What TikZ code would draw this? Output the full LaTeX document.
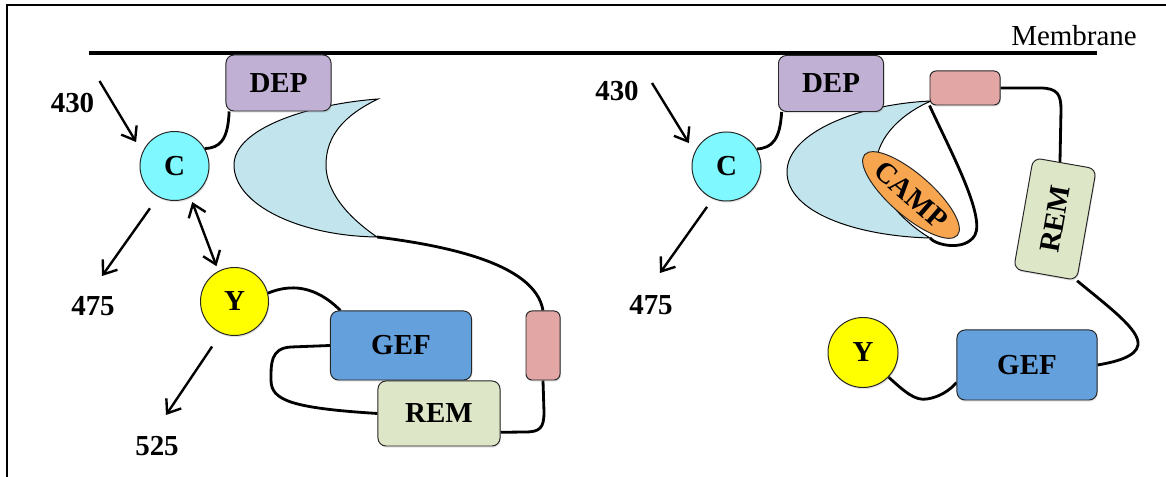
\documentclass[tikz,border=0pt]{standalone}
\usepackage{fontspec}
\setmainfont{Liberation Serif}
\usetikzlibrary{arrows.meta,shapes.geometric,shadows,backgrounds}
\definecolor{depC}{HTML}{C0B0D4}
\definecolor{cC}{HTML}{7FF8FF}
\definecolor{yC}{HTML}{FFFF00}
\definecolor{gefC}{HTML}{64A0DC}
\definecolor{remC}{HTML}{DEE6C8}
\definecolor{pinkC}{HTML}{E2A6A5}
\definecolor{cresC}{HTML}{C2E4EC}
\definecolor{campC}{HTML}{F8A550}
\newcommand{\lbl}{\fontsize{20.6}{24}\selectfont\bfseries}

\begin{document}
\begin{tikzpicture}[x=0.025cm,y=-0.025cm,
    box/.style={draw=black!85,line width=0.7pt,rounded corners=0.2cm,inner sep=0pt,font=\lbl,
      drop shadow={shadow xshift=0.6pt,shadow yshift=-1.2pt,opacity=0.22}},
    ball/.style={circle,draw=black!85,line width=0.7pt,inner sep=0pt,font=\lbl,
      drop shadow={shadow xshift=0.6pt,shadow yshift=-1.2pt,opacity=0.22}},
    link/.style={line width=2pt},
    arr/.style={line width=1.7pt,-{Straight Barb[length=0.3cm,width=0.45cm]}},
    dblarr/.style={line width=1.7pt,{Straight Barb[length=0.3cm,width=0.45cm]}-{Straight Barb[length=0.3cm,width=0.45cm]}},
    num/.style={font=\lbl}]
  \useasboundingbox (0,0) rectangle (1166,477);
  % frame and membrane
  \draw[line width=1.4pt] (7,477) -- (7,5) -- (1166,5);
  \draw[line width=3.2pt] (89,53) -- (1097,53);
  \node[font=\fontsize{20.6}{24}\selectfont] (memb) at (1074,36) {Membrane};

  % left crescent
  \coordinate (tipLt) at (378,99);
  \coordinate (tipLb) at (377,237);
  \draw[fill=cresC,line width=0.7pt] (tipLt) .. controls (310,104) and (234,128) .. (234,165)
      .. controls (234,205) and (300,236) .. (tipLb)
      .. controls (345,215) and (326,190) .. (326,165)
      .. controls (326,135) and (345,115) .. (tipLt) -- cycle;
  % right crescent
  \coordinate (tipRt) at (931,101);
  \coordinate (tipRb) at (930,238);
  \draw[fill=cresC,line width=0.7pt] (tipRt) .. controls (860,104) and (787,132) .. (787,172)
      .. controls (787,212) and (855,236) .. (tipRb)
      .. controls (900,220) and (875,190) .. (876,165)
      .. controls (877,135) and (905,112) .. (tipRt) -- cycle;

  % left panel
  \node[box,fill=depC,minimum width=2.625cm,minimum height=1.4cm] (depL) at (278.5,83) {DEP};
  \node[ball,fill=cC,minimum size=1.725cm] (cL) at (174.5,166) {C};
  \node[ball,fill=yC,minimum size=1.7cm] (yL) at (234.5,301.5) {Y};
  \node[box,fill=gefC,minimum width=3.525cm,minimum height=1.725cm] (gefL) at (401,345.5) {GEF};
  \node[box,fill=remC,minimum width=3.05cm,minimum height=1.625cm] (remL) at (439,413.5) {REM};
  \node[box,fill=pinkC,rounded corners=0.15cm,minimum width=0.85cm,minimum height=1.725cm] (pinkL) at (543,345.5) {};

  % right panel
  \node[box,fill=depC,minimum width=2.625cm,minimum height=1.4cm] (depR) at (831,83.5) {DEP};
  \node[box,fill=pinkC,rounded corners=0.15cm,minimum width=1.75cm,minimum height=0.85cm] (pinkR) at (965,88) {};
  \node[ellipse,draw=black!85,line width=0.7pt,fill=campC,inner sep=0pt,font=\lbl,
        minimum width=2.6cm,minimum height=1.05cm,rotate=-41] (camp) at (911,195) {CAMP};
  \node[ball,fill=cC,minimum size=1.725cm] (cR) at (726.5,166.5) {C};
  \node[box,fill=remC,minimum width=2.825cm,minimum height=1.6cm,rotate=80] (remR) at (1055,219) {REM};
  \node[ball,fill=yC,minimum size=1.75cm] (yR) at (863,352.5) {Y};
  \node[box,fill=gefC,minimum width=3.5cm,minimum height=1.75cm] (gefR) at (1027,365) {GEF};

  % numbers
  \node[num] (n430L) at (72.5,103) {430};
  \node[num] (n475L) at (93,306) {475};
  \node[num] (n525L) at (157,446) {525};
  \node[num] (n430R) at (617,91) {430};
  \node[num] (n475R) at (651,305) {475};
  \coordinate (s430L) at (99.5,81);
  \coordinate (e475L) at (102,276);
  \coordinate (e525L) at (166,415);
  \coordinate (s430R) at (652,83);
  \coordinate (e475R) at (660,273);

  \draw[arr,shorten >=0.3cm] (s430L) -- (cL.157);
  \draw[arr,shorten <=0.35cm] (cL.242) -- (e475L);
  \draw[arr,shorten <=0.4cm] (yL.247) -- (e525L);
  \draw[dblarr,shorten <=0.13cm,shorten >=0.13cm] (cL.-63) -- (yL.118);
  \draw[arr,shorten >=0.27cm] (s430R) -- (cR.156);
  \draw[arr,shorten <=0.25cm] (cR.247) -- (e475R);

  % linkers
  \begin{scope}[on background layer]
    \draw[link] (depL.210) .. controls (228,140) and (220,148) .. (cL.30);
    \draw[link] (yL.14) .. controls (290,284) and (315,285) .. (gefL.150);
    \draw[link] (gefL.west) -- (291,347) .. controls (270,348) and (271,365) .. (271,380)
        .. controls (271,400) and (290,408) .. (remL.west);
    \draw[link] (tipLb) .. controls (440,245) and (535,262) .. (pinkL.north);
    \draw[link] (pinkL.south) -- (544,412) .. controls (544,428) and (540,432) .. (525,432) -- (remL.-17);

    \draw[link] (depR.210) .. controls (780,140) and (772,148) .. (cR.30);
    \draw[link] (pinkR.south west) .. controls (950,150) and (985,215) .. (975,235)
        .. controls (965,252) and (935,245) .. (tipRb);
    \draw[link] (pinkR.east) -- (1040,88) .. controls (1058,88) and (1061,95) .. (1061,110) -- (remR.5);
    \draw[link] (remR.south west) .. controls (1110,308) and (1140,330) .. (1138,345)
        .. controls (1136,357) and (1115,362) .. (gefR.east);
    \draw[link] (yR.-44) .. controls (905,392) and (915,401) .. (927,399)
        .. controls (940,397) and (950,390) .. (gefR.194);
  \end{scope}
\end{tikzpicture}
\end{document}
